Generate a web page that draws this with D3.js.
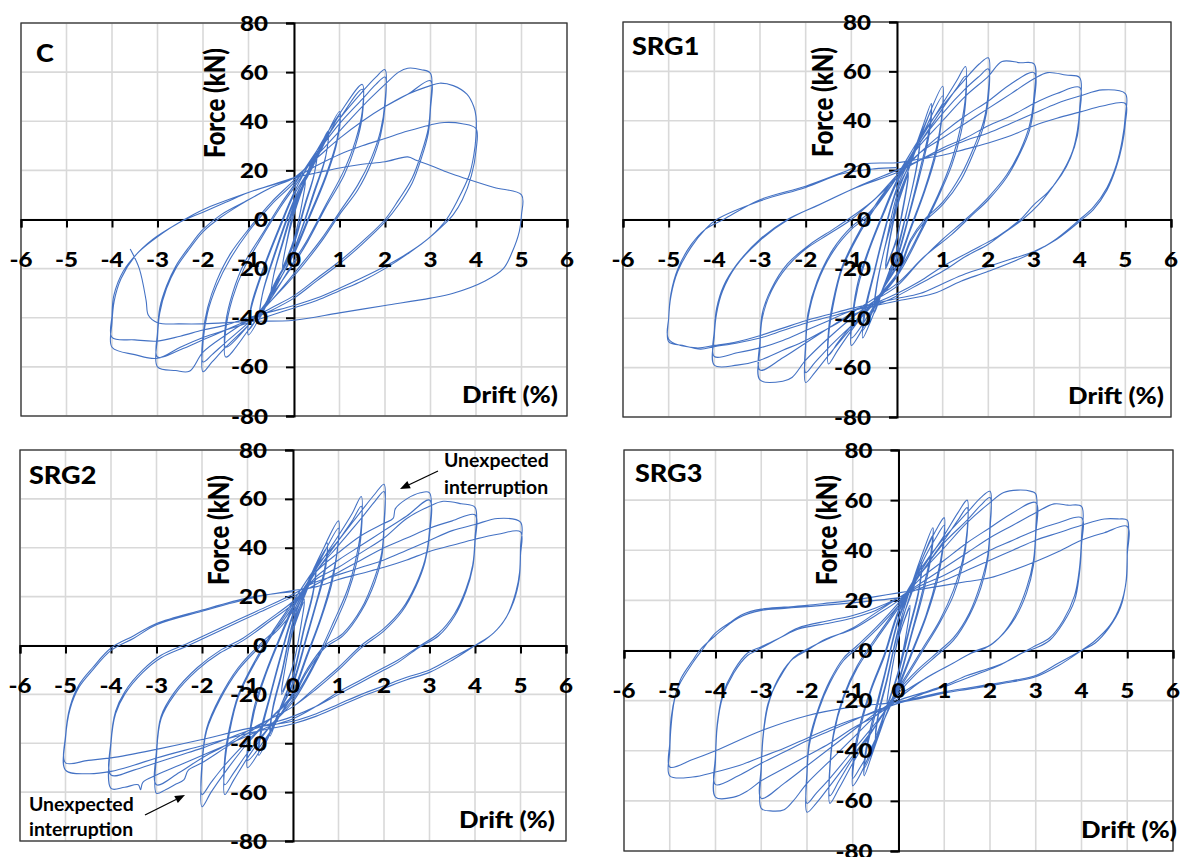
<!DOCTYPE html>
<html>
<head>
<meta charset="utf-8">
<script src="https://cdn.jsdelivr.net/npm/d3@7"></script>
<style>
  body { margin: 0; background: #fff; }
  svg { display: block; font-family: Lato, "Open Sans", sans-serif; font-weight: 900; }
</style>
</head>
<body>
<div id="chart"></div>
<script>
const driftTicks = [-6, -5, -4, -3, -2, -1, 0, 1, 2, 3, 4, 5, 6];
const forceTicks = [-80, -60, -40, -20, 0, 20, 40, 60, 80];
const panelNames = ["C", "SRG1", "SRG2", "SRG3"];
const driftTitle = "Drift (%)";
const forceTitle = "Force (kN)";
const noteLines = ["Unexpected", "interruption"];

// [drift %, force kN], one continuous trace per specimen
const loopC = [
  [0,3],[0.25,16],[0.2,9],[0,-8],[-0.25,-20],[-0.2,-13],[0,2],
  [0.25,15],[0.19,8],[0,-8],[-0.25,-19],[-0.19,-12],[0,4],
  [0.25,17],[0.5,28],[0.45,19],[0.25,7],[0,-9],[-0.25,-20],[-0.5,-31],[-0.45,-23],[-0.25,-10],[0,5],
  [0.25,16],[0.5,27],[0.44,18],[0.25,6],[0,-10],[-0.25,-20],[-0.5,-30],[-0.44,-22],[-0.25,-9],[0,6],
  [0.4,22],[0.75,36],[0.7,26],[0.45,12],[0,-12],[-0.4,-26],[-0.75,-40],[-0.7,-31],[-0.45,-16],[0,7],
  [0.4,21],[0.75,35],[0.69,25],[0.45,11],[0,-12],[-0.4,-25],[-0.75,-39],[-0.69,-30],[-0.45,-15],[0,8],
  [0.5,26],[1,44],[0.95,33],[0.7,18],[0.3,0],[0,-13],[-0.5,-31],[-1,-47],[-0.95,-37],[-0.7,-22],[-0.3,-3],[0,10],
  [0.5,25],[1,42],[0.94,31],[0.7,17],[0.3,-1],[0,-14],[-0.5,-30],[-1,-45],[-0.94,-35],[-0.7,-21],[-0.3,-2],[0,11],
  [0.5,28],[1,43],[1.5,55],[1.5,44],[1.35,32],[1.1,20],[0.7,6],[0.3,-8],[0,-17],[-0.5,-32],[-1,-45],[-1.5,-56],[-1.5,-45],[-1.35,-32],[-1.1,-20],[-0.7,-7],[-0.3,5],[0,13],
  [0.5,27],[1,41],[1.5,53],[1.5,42],[1.35,30],[1.1,18],[0.7,5],[0.3,-9],[0,-18],[-0.5,-31],[-1,-43],[-1.5,-52],[-1.5,-42],[-1.35,-30],[-1.1,-18],[-0.7,-6],[-0.3,6],[0,14],
  [0.5,28],[1,41],[1.5,52],[1.8,58],[2,61],[2,48],[1.9,36],[1.7,25],[1.4,14],[1,3],[0.6,-8],[0,-22],[-0.5,-33],[-1,-43],[-1.5,-52],[-1.8,-58],[-2,-62],[-2,-50],[-1.9,-38],[-1.7,-27],[-1.4,-16],[-1,-5],[-0.5,6],[0,15],
  [0.5,27],[1,39],[1.5,49],[1.8,55],[2,58],[2,46],[1.9,34],[1.7,23],[1.4,12],[1,2],[0.6,-9],[0,-23],[-0.5,-33],[-1,-42],[-1.5,-50],[-1.8,-55],[-2,-58],[-2,-47],[-1.9,-36],[-1.7,-25],[-1.4,-14],[-1,-4],[-0.5,7],[0,16],
  [0.5,26],[1,36],[1.5,46],[2,55],[2.3,60],[2.5,61.6],[2.8,61],[3,59.5],[3,47],[2.95,37],[2.8,27],[2.6,17],[2.3,8],[2,0],[1.5,-9],[1,-17],[0.5,-24],[0,-31],[-0.5,-36],[-1,-41],[-1.5,-47],[-2,-54],[-2.3,-61.8],[-2.6,-61.5],[-3,-60],[-3,-48],[-2.95,-38],[-2.8,-28],[-2.6,-20],[-2.3,-12],[-2,-5],[-1.6,1],[-1,8],[-0.5,13],[0,17],
  [0.5,25],[1,33],[1.5,40],[2,46],[2.5,51],[3,56.5],[3,45],[2.95,35],[2.8,25],[2.6,15],[2.3,6],[2,-1],[1.5,-10],[1,-18],[0.5,-25],[0,-32],[-0.5,-37],[-1,-41],[-1.5,-45],[-2,-49],[-2.5,-53],[-3,-56],[-3,-46],[-2.95,-36],[-2.8,-27],[-2.6,-19],[-2.3,-11],[-2,-4],[-1.6,2],[-1,8],[-0.5,13],[0,17],
  [0.5,25],[1,33],[1.5,40],[2,46],[2.5,51],[3,54.5],[3.2,55.5],[3.5,54.5],[3.8,51],[3.95,46],[4,42],[4,34],[3.95,26],[3.85,18],[3.6,8],[3.35,0],[3,-7],[2.5,-14],[2,-20],[1.5,-25],[1,-29],[0.5,-33],[0,-36],[-0.5,-39],[-1,-42],[-1.5,-45],[-2,-48],[-2.5,-52],[-3,-56.5],[-3.5,-55],[-4,-52],[-4,-42],[-3.95,-33],[-3.8,-24],[-3.5,-15],[-3.1,-8],[-2.5,-1],[-2,4],[-1,11],[0,17],
  [0.5,22],[1,26.5],[1.5,30],[2,33],[2.5,36],[3,38.5],[3.3,39.5],[3.7,39],[4,37],[4,28],[3.9,18],[3.7,8],[3.5,2],[3.3,-2],[2.8,-10],[2.3,-16],[1.8,-21],[1,-28],[0.5,-32],[0,-35],[-0.5,-37.5],[-1,-40],[-1.5,-43],[-2,-45],[-2.5,-47.5],[-3,-49.5],[-3.5,-49],[-4,-48],[-4,-39],[-3.96,-31],[-3.75,-21],[-3.4,-13],[-3,-7],[-2.5,-1],[-2,3],[-1.5,7],[-1,11],[-0.5,14],[0,17],
  [0.5,19],[1,21],[1.5,22.5],[2,23.5],[2.5,25.5],[2.7,24],[3,22],[3.4,19],[3.8,16.5],[4.4,13],[5,10],[5,2],[4.95,-5],[4.8,-13],[4.6,-20],[4.2,-25],[3.5,-30],[3,-32],[2,-35],[1,-38],[0,-41],[-1,-41.5],[-2,-42.5],[-2.5,-42.5],[-3,-42],[-3.2,-39],[-3.25,-33],[-3.4,-20],[-3.6,-12]
];

const loopSRG1 = [
  [0,5],[0.12,12],[0.25,19],[0.2,12],[0.1,2],[0,-8],[-0.12,-14],[-0.25,-20],[-0.2,-13],[-0.1,-3],[0,5],
  [0.25,18],[0.18,9],[0,-7],[-0.25,-19],[-0.18,-10],[0,6],
  [0.25,20],[0.5,34],[0.45,24],[0.3,10],[0.1,-5],[0,-12],[-0.25,-25],[-0.5,-38],[-0.45,-28],[-0.3,-14],[-0.1,0],[0,8],
  [0.25,20],[0.5,32],[0.44,22],[0.25,6],[0,-13],[-0.25,-25],[-0.5,-36],[-0.44,-26],[-0.25,-10],[0,10],
  [0.3,24],[0.55,37],[0.75,47],[0.7,36],[0.5,20],[0.3,5],[0,-15],[-0.3,-28],[-0.55,-40],[-0.75,-48],[-0.7,-38],[-0.5,-22],[-0.3,-7],[0,12],
  [0.3,23],[0.55,35],[0.75,44],[0.7,34],[0.5,18],[0.3,4],[0,-16],[-0.3,-28],[-0.55,-38],[-0.75,-45],[-0.7,-36],[-0.5,-21],[-0.3,-6],[0,13],
  [0.3,25],[0.6,38],[1,54],[0.98,42],[0.85,28],[0.6,12],[0.3,-3],[0,-18],[-0.3,-28],[-0.6,-39],[-1,-51],[-0.97,-40],[-0.85,-27],[-0.6,-12],[-0.3,2],[0,15],
  [0.3,25],[0.6,36],[1,50],[0.97,39],[0.85,26],[0.6,11],[0.3,-4],[0,-19],[-0.3,-28],[-0.6,-38],[-1,-48],[-0.97,-38],[-0.85,-25],[-0.6,-11],[-0.3,3],[0,16],
  [0.5,32],[1,47],[1.3,56],[1.5,62],[1.5,50],[1.4,38],[1.2,24],[0.9,10],[0.5,-5],[0,-22],[-0.5,-33],[-1,-45],[-1.3,-53],[-1.5,-58.5],[-1.5,-48],[-1.4,-35],[-1.2,-20],[-0.8,-5],[-0.4,7],[0,17],
  [0.5,31],[1,45],[1.3,53],[1.5,58],[1.5,47],[1.4,35],[1.2,22],[0.9,9],[0.5,-6],[0,-23],[-0.5,-33],[-1,-43],[-1.3,-50],[-1.5,-55],[-1.5,-45],[-1.4,-33],[-1.2,-19],[-0.8,-4],[-0.4,8],[0,18],
  [0.5,33],[1,46],[1.5,57],[1.8,63],[2,65.5],[2,52],[1.9,40],[1.7,30],[1.4,18],[1,7],[0.6,0],[0.3,-8],[0,-22],[-0.5,-34],[-1,-44],[-1.5,-55],[-1.8,-62],[-2,-66],[-2,-52],[-1.95,-40],[-1.75,-26],[-1.4,-13],[-1,-4],[-0.6,2],[0,17],
  [0.5,31],[1,43],[1.5,53],[1.8,58],[2,61],[2,49],[1.9,38],[1.7,28],[1.4,16],[1,6],[0.6,-1],[0.3,-9],[0,-23],[-0.5,-34],[-1,-43],[-1.5,-52],[-1.8,-58],[-2,-62],[-2,-50],[-1.95,-38],[-1.75,-25],[-1.4,-12],[-1,-3],[-0.6,3],[0,18],
  [0.5,30],[1,40],[1.5,50],[2,58],[2.3,64],[2.7,63.5],[3,63],[3,50],[2.9,38],[2.7,28],[2.4,18],[2,9],[1.5,0],[1,-8],[0.5,-17],[0,-27],[-0.5,-33],[-1,-40],[-1.5,-48],[-2,-57],[-2.3,-64],[-2.5,-65.5],[-3,-65],[-3,-52],[-2.95,-40],[-2.75,-29],[-2.4,-19],[-2,-12],[-1.5,-6],[-1,0],[-0.5,8],[0,17],
  [0.5,27],[1,35],[1.5,42],[2,48],[2.5,55],[3,59.5],[3,47],[2.9,36],[2.7,27],[2.4,17],[2,8],[1.6,1],[1.2,-6],[0.6,-15],[0,-26],[-0.5,-32],[-1,-38],[-1.5,-44],[-2,-50],[-2.5,-56],[-3,-61],[-3,-49],[-2.95,-38],[-2.75,-28],[-2.4,-18],[-1.9,-10],[-1.4,-4],[-1,1],[-0.5,8],[0,18],
  [0.5,27],[1,33],[1.5,39],[2,45],[2.5,51],[3,57],[3.3,59.5],[3.7,58.5],[4,57.5],[4,45],[3.95,36],[3.85,28],[3.65,20],[3.4,13],[3.1,6],[2.75,0],[2.3,-6],[2,-10],[1.5,-15],[1,-21],[0.5,-26],[0,-31],[-0.5,-35],[-1,-39],[-1.5,-44],[-2,-49],[-2.5,-53],[-3,-57],[-3.5,-59],[-4,-59],[-4,-47],[-3.95,-38],[-3.82,-29],[-3.53,-19],[-3,-8.5],[-2.38,0],[-1.71,6],[-0.89,13],[0,19],
  [0.5,24],[1,29],[1.5,33],[2,38],[2.5,42],[3,47],[3.5,51],[4,53.5],[4,43],[3.95,34],[3.8,25],[3.6,18],[3.3,11],[3,6],[2.7,0],[2.2,-7],[1.8,-11],[1,-19],[0.5,-25],[0,-30],[-0.5,-34],[-1,-37],[-1.5,-41],[-2,-45],[-2.5,-49],[-3,-52],[-3.5,-54],[-4,-55.5],[-4,-45],[-3.95,-36],[-3.8,-27],[-3.5,-18],[-3,-8],[-2.4,0],[-1.7,6],[-0.9,13],[0,20],
  [0.5,24],[1,28],[1.5,32],[2,35],[2.5,39],[3,43],[3.5,47],[4,50],[4.5,52.5],[5,51],[5,42],[4.93,32],[4.8,22],[4.6,13],[4.3,5],[4,0],[3.4,-9],[2.8,-15],[2,-21],[1.4,-25],[0.8,-30],[0,-33],[-0.5,-35],[-1,-37],[-1.5,-39.5],[-2,-42],[-2.5,-45],[-3,-48],[-3.5,-50],[-4,-51.5],[-4.3,-52.5],[-4.7,-51],[-5,-49.5],[-5,-40],[-4.95,-30],[-4.8,-20],[-4.5,-10],[-4.2,-4],[-3.8,0],[-3,8],[-2,13.5],[-1.2,19],[-0.7,22.5],[0,23],
  [0.5,24.5],[1,26],[1.5,28.5],[2,31],[2.5,34],[3,38],[3.5,41],[4,43.5],[4.5,46],[5,47],[5,39],[4.93,30],[4.8,21],[4.6,12],[4.3,4],[4.05,0],[3.5,-8],[3,-13],[2.5,-16],[2,-19],[1.5,-22],[1,-26],[0.5,-30],[0,-32],[-0.5,-34],[-1,-36],[-1.5,-38.5],[-2,-41],[-2.5,-44],[-3,-47],[-3.5,-49.5],[-4,-51],[-4.4,-52],[-5,-48.5],[-5,-40],[-4.95,-31],[-4.8,-21],[-4.5,-11],[-4.2,-4],[-3.95,0],[-3,7.5],[-2,13],[-1.2,18.5],[-0.5,20.5],[0,21]
];

const loopSRG2 = [
  [0,6],[0.25,19],[0.2,11],[0,-8],[-0.25,-20],[-0.2,-12],[0,6],
  [0.25,18],[0.19,10],[0,-8],[-0.25,-19],[-0.19,-11],[0,7],
  [0.25,21],[0.5,33],[0.45,23],[0.25,8],[0,-12],[-0.25,-24],[-0.5,-37],[-0.45,-27],[-0.25,-12],[0,9],
  [0.25,20],[0.5,31],[0.44,21],[0.25,7],[0,-13],[-0.25,-24],[-0.5,-35],[-0.44,-25],[-0.25,-11],[0,10],
  [0.3,24],[0.55,35],[0.75,42],[0.7,32],[0.5,17],[0.3,4],[0,-15],[-0.3,-27],[-0.55,-38],[-0.75,-45],[-0.7,-36],[-0.5,-21],[-0.3,-7],[0,12],
  [0.3,23],[0.55,34],[0.75,40],[0.7,30],[0.5,16],[0.3,3],[0,-16],[-0.3,-27],[-0.55,-37],[-0.75,-43],[-0.7,-34],[-0.5,-20],[-0.3,-6],[0,13],
  [0.3,25],[0.6,37],[1,51],[0.98,40],[0.85,27],[0.6,11],[0.3,-4],[0,-19],[-0.3,-29],[-0.6,-39],[-1,-50],[-0.97,-40],[-0.85,-27],[-0.6,-12],[-0.3,2],[0,15],
  [0.3,25],[0.6,35],[1,48],[0.97,38],[0.85,25],[0.6,10],[0.3,-5],[0,-20],[-0.3,-29],[-0.6,-38],[-1,-47],[-0.97,-38],[-0.85,-25],[-0.6,-11],[-0.3,3],[0,16],
  [0.5,31],[1,45],[1.3,54],[1.5,61],[1.5,49],[1.4,37],[1.2,23],[0.9,10],[0.5,-6],[0,-22],[-0.5,-33],[-1,-46],[-1.3,-55],[-1.5,-61],[-1.5,-49],[-1.4,-36],[-1.2,-21],[-0.8,-6],[-0.4,6],[0,17],
  [0.5,30],[1,43],[1.3,51],[1.5,57],[1.5,46],[1.4,34],[1.2,21],[0.9,8],[0.5,-7],[0,-23],[-0.5,-33],[-1,-44],[-1.3,-52],[-1.5,-57],[-1.5,-46],[-1.4,-34],[-1.2,-20],[-0.8,-5],[-0.4,7],[0,18],
  [0.5,32],[1,43],[1.5,55],[1.8,62],[2,66],[2,50],[1.95,38],[1.8,28],[1.5,15],[1.1,5],[0.7,0],[0.3,-10],[0,-20],[-0.5,-30],[-1,-40],[-1.5,-52],[-1.8,-60],[-2,-66],[-2,-50],[-1.9,-35],[-1.6,-22],[-1.2,-10],[-0.7,0],[-0.3,7],[0,14],
  [0.5,30],[1,41],[1.5,52],[1.8,59],[2,63],[2,48],[1.95,36],[1.8,26],[1.5,14],[1.1,4],[0.7,-1],[0.3,-11],[0,-21],[-0.5,-30],[-1,-39],[-1.5,-49],[-1.8,-56],[-2,-61],[-2,-48],[-1.9,-34],[-1.6,-21],[-1.2,-9],[-0.7,1],[-0.3,8],[0,16],
  [0.5,30],[1,38],[1.5,45],[2,50],[2.2,52],[2.25,56],[2.5,60],[2.8,62.5],[3,62.5],[3,47],[2.9,35],[2.7,25],[2.4,15],[2,7],[1.5,0],[1,-9],[0.5,-17],[0,-25],[-0.5,-30],[-1,-36],[-1.5,-42],[-2,-48],[-2.3,-51],[-2.4,-55],[-2.6,-57],[-2.8,-59],[-3,-60.5],[-3,-45],[-2.9,-30],[-2.6,-20],[-2.1,-10],[-1.6,-3],[-1.1,2],[-0.5,10],[0,17],
  [0.5,28],[1,35],[1.5,41],[2,47],[2.5,53],[3,59.5],[3,45],[2.9,34],[2.7,24],[2.4,14],[2,6],[1.5,-1],[1,-10],[0.5,-18],[0,-25],[-0.5,-30],[-1,-35],[-1.5,-41],[-2,-46],[-2.5,-52],[-3,-57],[-3,-43],[-2.9,-29],[-2.6,-19],[-2.1,-9],[-1.6,-2],[-1.1,3],[-0.5,11],[0,18],
  [0.5,27],[1,32],[1.5,38],[2,44],[2.5,52],[3,57],[3.3,59],[3.7,58],[4,56.5],[4,44],[3.95,33],[3.8,23],[3.55,13],[3.2,5],[2.8,0],[2.3,-6],[2,-9],[1.5,-14],[1,-19],[0.5,-25],[0,-30],[-0.5,-33],[-1,-37],[-1.5,-41],[-2,-45],[-2.5,-49],[-3,-53],[-3.3,-56],[-3.35,-59],[-3.4,-57],[-3.7,-58],[-4,-58.5],[-4,-40],[-3.9,-28],[-3.7,-20],[-3.3,-11],[-2.9,-5],[-2.3,0],[-1.5,7],[-0.8,13],[0,20],
  [0.5,25],[1,30],[1.5,35],[2,40],[2.5,44],[3,48],[3.5,51],[4,53.5],[4,42],[3.95,32],[3.8,22],[3.55,12],[3.2,4],[2.75,-1],[2.3,-7],[2,-10],[1.5,-15],[1,-20],[0.5,-25],[0,-29],[-0.5,-32],[-1,-35],[-1.5,-38.5],[-2,-42],[-2.5,-45],[-3,-48],[-3.5,-51],[-4,-53],[-4,-39],[-3.9,-27],[-3.7,-19],[-3.3,-10],[-2.9,-4],[-2.3,1],[-1.5,8],[-0.8,14],[0,21],
  [0.5,26],[1,29],[1.5,32],[2,35],[2.5,39],[3,43],[3.5,47],[4,49.5],[4.5,52],[5,50.5],[5,40],[4.98,30],[4.9,22],[4.7,12],[4.4,5],[4,0],[3.5,-6],[3,-11],[2.5,-14],[2,-17.5],[1.5,-21],[1,-25],[0.5,-29],[0,-32],[-1,-36],[-2,-41],[-3,-46],[-3.5,-49],[-4,-51.5],[-4.5,-52.5],[-5,-51],[-5,-38],[-4.9,-26],[-4.7,-17],[-4.4,-10],[-4,-2],[-3.5,3],[-3,8.5],[-2,14],[-1,19],[-0.5,21],[0,22.5],
  [0.5,24],[1,27],[1.5,29.5],[2,32],[2.5,35],[3,38.5],[3.5,41],[4,43.5],[4.5,45.5],[5,46.5],[5,37],[4.97,27],[4.85,18],[4.6,9],[4.2,2],[3.9,-1],[3.5,-5],[3,-10],[2.5,-13],[2,-16.5],[1.5,-20],[1,-24],[0.5,-28],[0,-31],[-1,-34],[-2,-38.5],[-3,-42.5],[-4,-46],[-4.5,-47],[-5,-48],[-5,-37],[-4.9,-25],[-4.7,-16],[-4.4,-9],[-4,-1],[-3.5,4],[-3,9],[-2,14.5],[-1,19.5],[-0.5,21],[0,22]
];

const loopSRG3 = [
  [0,5],[0.25,18],[0.2,10],[0,-8],[-0.25,-22],[-0.2,-14],[0,5],
  [0.25,17],[0.19,9],[0,-9],[-0.25,-21],[-0.19,-13],[0,6],
  [0.25,22],[0.5,35],[0.45,25],[0.25,10],[0,-8],[-0.25,-22],[-0.5,-36],[-0.45,-27],[-0.25,-12],[0,8],
  [0.25,21],[0.5,33],[0.44,23],[0.25,9],[0,-9],[-0.25,-22],[-0.5,-34],[-0.44,-25],[-0.25,-11],[0,9],
  [0.3,27],[0.55,40],[0.75,49],[0.7,38],[0.5,22],[0.3,8],[0,-12],[-0.3,-27],[-0.55,-40],[-0.75,-50],[-0.7,-40],[-0.5,-25],[-0.3,-10],[0,12],
  [0.3,26],[0.55,38],[0.75,46],[0.7,36],[0.5,20],[0.3,7],[0,-13],[-0.3,-27],[-0.55,-39],[-0.75,-47],[-0.7,-38],[-0.5,-23],[-0.3,-9],[0,13],
  [0.3,27],[0.6,40],[0.85,49],[1,53],[0.97,42],[0.85,30],[0.6,14],[0.3,0],[0,-14],[-0.3,-27],[-0.6,-40],[-0.85,-50],[-1,-54],[-0.97,-44],[-0.85,-32],[-0.6,-16],[-0.3,-2],[0,15],
  [0.3,26],[0.6,38],[0.85,46],[1,50],[0.97,40],[0.85,28],[0.6,13],[0.3,-1],[0,-15],[-0.3,-27],[-0.6,-39],[-0.85,-47],[-1,-51],[-0.97,-41],[-0.85,-30],[-0.6,-15],[-0.3,-1],[0,16],
  [0.5,32],[1,46],[1.3,55],[1.5,60],[1.5,48],[1.4,36],[1.2,24],[0.9,12],[0.5,0],[0,-15],[-0.5,-30],[-1,-45],[-1.3,-55],[-1.5,-61],[-1.5,-48],[-1.42,-34],[-1.2,-19],[-0.9,-7],[-0.5,4],[0,17],
  [0.5,31],[1,44],[1.3,52],[1.5,57],[1.5,46],[1.4,34],[1.2,22],[0.9,11],[0.5,-1],[0,-16],[-0.5,-30],[-1,-43],[-1.3,-52],[-1.5,-58],[-1.5,-46],[-1.42,-33],[-1.2,-18],[-0.9,-6],[-0.5,5],[0,18],
  [0.5,33],[1,45],[1.5,55],[1.8,61],[2,63.5],[2,50],[1.95,38],[1.8,27],[1.55,15],[1.2,5],[0.9,0],[0.4,-8],[0,-16],[-0.5,-30],[-1,-42],[-1.5,-54],[-1.8,-61],[-2,-64.5],[-2,-50],[-1.95,-38],[-1.75,-24],[-1.5,-13],[-1.2,-4],[-0.9,1],[-0.5,8],[0,18],
  [0.5,31],[1,43],[1.5,52],[1.8,58],[2,61],[2,48],[1.95,36],[1.8,25],[1.55,14],[1.2,4],[0.9,-1],[0.4,-9],[0,-17],[-0.5,-29],[-1,-40],[-1.5,-51],[-1.8,-57],[-2,-61],[-2,-48],[-1.95,-36],[-1.75,-23],[-1.5,-12],[-1.2,-3],[-0.9,2],[-0.5,9],[0,19],
  [0.5,31],[1,41],[1.5,51],[2,59],[2.3,63],[2.6,64],[2.9,63.5],[3,62.5],[3,48],[2.95,36],[2.8,25],[2.55,14],[2.25,6],[2,2],[1.7,0],[1.2,-5],[0.7,-10],[0,-18],[-0.5,-26],[-1,-35],[-1.5,-44],[-2,-53],[-2.3,-60],[-2.5,-63.5],[-2.8,-64],[-3,-63],[-3,-48],[-2.95,-33],[-2.85,-22],[-2.65,-12],[-2.35,-4],[-2,0],[-1.6,4.5],[-1,8.5],[-0.5,14],[0,20],
  [0.5,29],[1,36],[1.5,43],[2,49],[2.5,55],[3,59],[3,46],[2.95,34],[2.8,23],[2.55,13],[2.2,5],[1.9,1],[1.6,-1],[1.1,-6],[0.6,-11],[0,-19],[-0.5,-25],[-1,-32],[-1.5,-39],[-2,-46],[-2.5,-53],[-3,-59],[-3,-46],[-2.95,-32],[-2.85,-21],[-2.6,-11],[-2.3,-3],[-1.95,1],[-1.5,5],[-1,9],[-0.5,15],[0,21],
  [0.5,27],[1,33],[1.5,39],[2,45],[2.5,50],[3,55],[3.4,58.5],[3.7,58],[4,57.5],[4,45],[3.95,32],[3.85,22],[3.6,12],[3.3,5],[3,2],[2.8,0],[2.3,-5],[2,-7],[1.5,-10],[1,-14],[0.5,-17],[0,-20],[-0.5,-26],[-1,-31],[-1.5,-37],[-2,-42],[-2.5,-47],[-3,-52],[-3.3,-56],[-3.6,-58.5],[-4,-58.5],[-4,-44],[-3.96,-30],[-3.85,-19],[-3.6,-9],[-3.3,-2],[-3.1,0],[-2.6,5],[-2.2,9],[-1.5,12],[-1,14],[-0.5,17],[0,21],
  [0.5,26],[1,30],[1.5,35],[2,40],[2.5,44],[3,48],[3.5,51],[4,53],[4,42],[3.95,30],[3.85,20],[3.6,11],[3.3,4],[3,1],[2.7,-1],[2.2,-6],[2,-7.5],[1.5,-11],[1,-14.5],[0.5,-17.5],[0,-21],[-0.5,-24],[-1,-28],[-1.5,-32],[-2,-36],[-2.5,-40.5],[-3,-45],[-3.5,-50],[-4,-53.5],[-4,-42],[-3.96,-29],[-3.85,-18],[-3.6,-8],[-3.3,-1],[-3,1.5],[-2.6,5],[-2.2,8.5],[-1.5,11],[-1,13],[-0.5,16],[0,21],
  [0.5,25],[1,28],[1.5,32],[2,36],[2.5,40],[3,44],[3.5,47],[4,50],[4.5,52.5],[4.8,52.5],[5,52],[5,40],[4.98,28],[4.85,18],[4.62,10],[4.3,4],[4,0],[3.5,-6],[3,-10.5],[2.5,-12.5],[2,-14],[1.5,-15.5],[1,-17],[0.5,-19],[0,-21],[-0.5,-24.5],[-1,-27.5],[-1.5,-31],[-2,-35],[-2.5,-39],[-3,-42.5],[-3.5,-46],[-4,-48.5],[-4.5,-50.5],[-5,-50],[-5,-40],[-4.97,-30],[-4.9,-20],[-4.8,-14],[-4.5,-5],[-4.3,0],[-4,7],[-3.7,11],[-3.4,14.5],[-3,16.5],[-2.5,17.3],[-2,18],[-1.5,19],[-1,20],[-0.5,21.5],[0,23],
  [0.5,24.5],[1,26],[1.5,27.5],[2,29],[2.5,32],[3,35.5],[3.5,39.5],[4,44],[4.5,47],[5,49.5],[5,38],[4.97,27],[4.85,17],[4.6,9],[4.3,3],[4,0],[3.5,-5],[3,-10],[2.5,-12],[2,-13.5],[1,-16.5],[0,-20.5],[-1,-22.5],[-2,-26],[-3,-32],[-4,-40],[-4.5,-43.5],[-5,-46.5],[-5,-37],[-4.97,-27],[-4.88,-18],[-4.75,-11],[-4.5,-4],[-4.35,0],[-4,6],[-3.5,13],[-3,16],[-2.5,16.8],[-2,17.5],[-1,19],[0,21]
];

const loops = [loopC, loopSRG1, loopSRG2, loopSRG3];

function PanelDrawer(svg, box) {
  this.g = svg.append("g");
  this.box = box;
  this.x = d3.scaleLinear().domain([driftTicks[0], driftTicks[driftTicks.length - 1]]).range([box[0], box[2]]);
  this.y = d3.scaleLinear().domain([forceTicks[0], forceTicks[forceTicks.length - 1]]).range([box[3], box[1]]);
}

PanelDrawer.prototype.drawGrid = function() {
  var x = this.x, y = this.y, box = this.box;
  this.g.append("g").selectAll("line").data(driftTicks).join("line")
    .attr("x1", d => x(d)).attr("x2", d => x(d)).attr("y1", box[1]).attr("y2", box[3])
    .attr("stroke", "#d9d9d9").attr("stroke-width", 1.6);
  this.g.append("g").selectAll("line").data(forceTicks).join("line")
    .attr("x1", box[0]).attr("x2", box[2]).attr("y1", d => y(d)).attr("y2", d => y(d))
    .attr("stroke", "#d9d9d9").attr("stroke-width", 1.6);
  this.g.append("rect").attr("x", box[0]).attr("y", box[1])
    .attr("width", box[2] - box[0]).attr("height", box[3] - box[1])
    .attr("fill", "none").attr("stroke", "#333").attr("stroke-width", 1.3);
}

PanelDrawer.prototype.drawLoop = function(points) {
  var line = d3.line().x(d => this.x(d[0])).y(d => this.y(d[1])).curve(d3.curveCatmullRom.alpha(0.5));
  this.g.append("path").attr("d", line(points))
    .attr("fill", "none").attr("stroke", "#4472c4").attr("stroke-width", 1.1).attr("stroke-linejoin", "round");
}

PanelDrawer.prototype.drawAxes = function() {
  var x = this.x, y = this.y;
  var xAxis = d3.axisBottom(x).tickValues(driftTicks).tickSize(8).tickFormat("");
  var yAxis = d3.axisLeft(y).tickValues(forceTicks).tickSize(8).tickFormat("");
  [this.g.append("g").attr("transform", "translate(0," + y(0) + ")").call(xAxis),
   this.g.append("g").attr("transform", "translate(" + x(0) + ",0)").call(yAxis)].forEach(function(a) {
    a.select(".domain").attr("stroke", "#000").attr("stroke-width", 2);
    a.selectAll(".tick line").attr("stroke", "#000").attr("stroke-width", 2);
  });
}

// text is stretched sideways (sx) to follow the wide lettering of the picture
PanelDrawer.prototype.drawText = function(textMessage, px, py, fontSize, anchor, sx, weight) {
  return this.g.append("text")
    .attr("transform", "translate(" + px + "," + py + ") scale(" + (sx || 1) + ",1)")
    .attr("font-size", fontSize).attr("font-weight", weight || 900)
    .attr("text-anchor", anchor || "start").attr("fill", "#000").text(textMessage);
}

PanelDrawer.prototype.drawTickLabels = function() {
  var x = this.x, y = this.y, self = this;
  driftTicks.forEach(function(d) { self.drawText(String(d), x(d), y(0) + 47, 21, "middle", 1.15); });
  forceTicks.forEach(function(d) { self.drawText(String(d), x(0) - 26, y(d) + 7.5, 21, "end", 1.15); });
}

PanelDrawer.prototype.drawArrow = function(x1, y1, x2, y2) {
  var ang = Math.atan2(y2 - y1, x2 - x1), len = 10, wid = 4;
  var bx = x2 - len * Math.cos(ang), by = y2 - len * Math.sin(ang);
  this.g.append("line").attr("x1", x1).attr("y1", y1).attr("x2", bx).attr("y2", by)
    .attr("stroke", "#000").attr("stroke-width", 1.3);
  this.g.append("path").attr("fill", "#000").attr("d",
    "M" + x2 + "," + y2 +
    "L" + (bx + wid * Math.sin(ang)) + "," + (by - wid * Math.cos(ang)) +
    "L" + (bx - wid * Math.sin(ang)) + "," + (by + wid * Math.cos(ang)) + "Z");
}

const panels = [
  { box: [21, 23, 567, 416], nameDx: 15, nameDy: 38.5, forceDx: -69, driftDx: -9 },
  { box: [623, 22, 1171, 417], nameDx: 9, nameDy: 33, forceDx: -64, driftDx: -7 },
  { box: [20, 450, 566, 841], nameDx: 9, nameDy: 34, forceDx: -64, driftDx: -11 },
  { box: [624, 450, 1173, 851], nameDx: 11, nameDy: 32, forceDx: -62, driftDx: 4 }
];

const svg = d3.select("#chart").append("svg").attr("width", 1184).attr("height", 857);
svg.append("rect").attr("width", 1184).attr("height", 857).attr("fill", "#fff");

panels.forEach(function(p, i) {
  var drawer = new PanelDrawer(svg, p.box);
  drawer.drawGrid();
  drawer.drawAxes();
  drawer.drawLoop(loops[i]);
  drawer.drawTickLabels();
  drawer.drawText(panelNames[i], p.box[0] + p.nameDx, p.box[1] + p.nameDy, 25, "start", 1.08);
  drawer.drawText(driftTitle, p.box[2] + p.driftDx, p.box[3] - 13, 23, "end", 1.12);
  drawer.g.append("text")
    .attr("transform", "translate(" + (drawer.x(0) + p.forceDx) + "," + (p.box[1] + 80) + ") scale(1.15,1) rotate(-90)")
    .attr("font-size", 24).attr("font-weight", 900).attr("text-anchor", "middle").attr("fill", "#000").text(forceTitle);
  if (i === 2) {
    drawer.drawText(noteLines[0], 444, 467, 18.5, "start", 1.05, 700);
    drawer.drawText(noteLines[1], 444, 494, 18.5, "start", 1.05, 700);
    drawer.drawArrow(438, 471, 400, 489);
    drawer.drawText(noteLines[0], 29, 811, 18.5, "start", 1.05, 700);
    drawer.drawText(noteLines[1], 29, 836, 18.5, "start", 1.05, 700);
    drawer.drawArrow(145, 815, 185, 795);
  }
});
</script>
</body>
</html>
